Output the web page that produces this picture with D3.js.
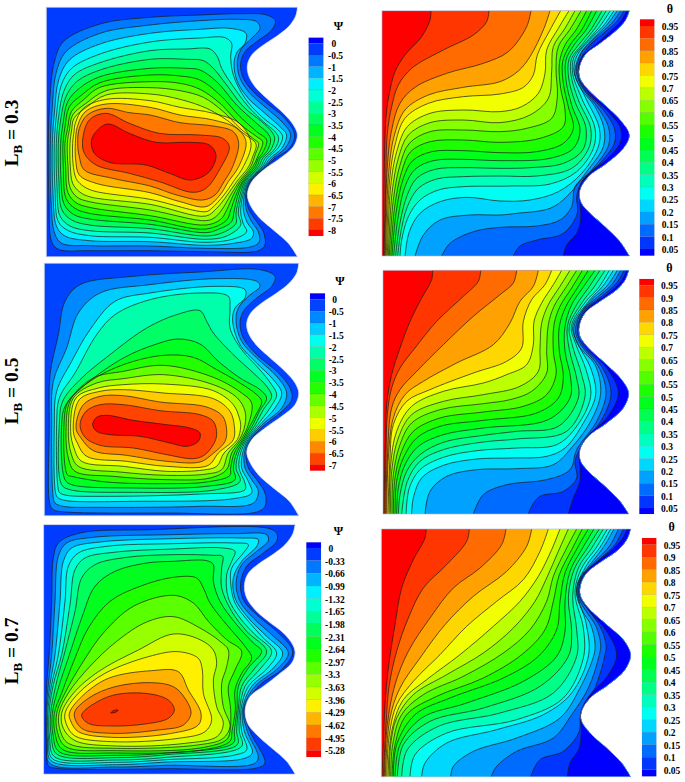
<!DOCTYPE html>
<meta charset="utf-8">
<style>
  body { margin: 0; background: white; }
  text { font-family: "Liberation Serif", serif; font-weight: bold; fill: black; }
</style>
<body>
<div id="chart"></div>
<script src="https://d3js.org/d3.v7.min.js"></script>
<script>
const psiLabels03 = [0,-0.5,-1,-1.5,-2,-2.5,-3,-3.5,-4,-4.5,-5,-5.5,-6,-6.5,-7,-7.5,-8];
const psiLabels05 = [0,-0.5,-1,-1.5,-2,-2.5,-3,-3.5,-4,-4.5,-5,-5.5,-6,-6.5,-7];
const psiLabels07 = [0,-0.33,-0.66,-0.99,-1.32,-1.65,-1.98,-2.31,-2.64,-2.97,-3.3,-3.63,-3.96,-4.29,-4.62,-4.95,-5.28];
const thetaLabels = [0.95,0.9,0.85,0.8,0.75,0.7,0.65,0.6,0.55,0.5,0.45,0.4,0.35,0.3,0.25,0.2,0.15,0.1,0.05];

// wavy right wall of the cavity, one per panel
const wallA = [[892,22],[888,45],[870,75],[835,105],[790,135],[755,165],[742,195],[745,225],[765,260],[800,295],[850,340],[880,375],[892,405],[880,440],[840,475],[790,510],[755,545],[742,580],[748,610],[775,650],[820,690],[865,730],[892,770]];
const wallB = [[838,32],[827,60],[800,90],[750,130],[705,165],[688,205],[690,235],[715,270],[770,320],[815,365],[838,405],[820,445],[770,490],[715,530],[690,570],[692,605],[720,640],[765,680],[810,725],[838,768]];
const wallC = [[896,16],[890,45],[868,75],[830,105],[785,135],[752,165],[740,195],[745,225],[768,260],[805,295],[855,340],[885,375],[896,405],[885,440],[845,475],[795,510],[755,545],[740,580],[748,610],[775,650],[820,690],[868,730],[896,773]];
const wallD = [[836,37],[826,65],[800,95],[750,130],[705,165],[688,205],[690,235],[715,270],[770,320],[815,365],[836,405],[820,450],[770,495],[715,535],[690,575],[692,610],[720,645],[765,685],[810,730],[836,768]];
const wallE = [[885,20],[878,48],[855,80],[820,108],[775,138],[742,170],[733,205],[740,240],[765,275],[805,310],[850,345],[878,380],[885,405],[875,435],[835,470],[790,505],[750,535],[735,575],[742,615],[770,650],[815,690],[860,730],[885,768]];
const wallF = [[842,33],[832,62],[805,95],[755,130],[710,165],[692,200],[692,235],[715,270],[770,320],[820,365],[842,410],[825,455],[775,500],[720,540],[695,580],[695,610],[725,650],[770,690],[815,735],[842,776]];

// streamfunction contours, outermost first, closed loops
const psiLoopsA = [
  [[155,725],[147,600],[145,430],[150,290],[162,190],[190,125],[300,72],[450,52],[600,45],[720,41],[800,45],[826,62],[815,90],[770,125],[735,155],[722,190],[728,230],[755,270],[800,310],[855,355],[884,405],[868,445],[825,475],[798,500],[752,545],[740,585],[745,625],[770,665],[790,695],[795,735],[775,752],[618,755],[450,752],[268,752],[175,748]],
  [[164,700],[153,600],[151,430],[157,320],[168,220],[198,155],[300,100],[450,75],[600,62],[710,58],[770,65],[780,85],[755,115],[725,145],[712,185],[720,235],[750,280],[800,325],[850,370],[872,405],[855,445],[818,475],[795,500],[749,545],[737,585],[738,625],[755,665],[775,695],[778,725],[755,740],[618,745],[450,738],[268,737],[185,730]],
  [[170,680],[159,580],[157,430],[164,330],[176,240],[208,180],[300,132],[450,100],[600,88],[690,85],[738,100],[735,130],[712,155],[702,190],[712,245],[745,295],[795,340],[845,385],[860,405],[845,445],[810,475],[791,500],[746,545],[733,585],[730,630],[742,668],[760,695],[755,715],[700,730],[618,736],[450,725],[268,722],[195,708]],
  [[175,665],[165,570],[163,430],[170,340],[184,255],[215,205],[300,162],[450,126],[600,114],[675,113],[695,130],[692,170],[700,225],[735,295],[785,350],[835,390],[848,410],[835,443],[802,475],[787,500],[743,545],[729,585],[722,635],[730,672],[740,695],[700,717],[618,727],[450,712],[268,707],[205,692]],
  [[180,648],[171,560],[169,430],[176,350],[191,275],[222,225],[300,188],[450,152],[560,147],[630,147],[652,170],[665,205],[700,260],[745,320],[790,365],[825,395],[836,415],[824,447],[795,475],[782,500],[739,545],[725,585],[715,640],[722,675],[680,708],[618,718],[450,699],[268,692],[210,678]],
  [[186,630],[177,550],[175,430],[182,360],[198,290],[230,245],[300,210],[450,178],[560,178],[610,182],[640,205],[680,255],[730,320],[785,365],[815,395],[824,415],[812,450],[788,475],[776,500],[735,545],[720,585],[708,640],[708,670],[668,698],[618,708],[450,686],[268,675],[215,660]],
  [[192,612],[183,540],[182,430],[189,370],[203,305],[238,265],[300,230],[450,205],[560,205],[600,210],[650,245],[710,315],[770,370],[803,400],[812,420],[800,455],[781,475],[770,500],[731,545],[714,585],[702,635],[695,665],[655,688],[618,698],[450,673],[268,657],[220,643]],
  [[198,595],[190,500],[189,430],[195,380],[208,320],[245,285],[300,248],[450,225],[540,228],[600,240],[660,285],[720,350],[770,395],[800,420],[788,458],[775,475],[764,500],[727,545],[708,585],[692,630],[680,660],[618,687],[450,660],[268,640],[225,625]],
  [[204,578],[197,500],[195,430],[203,385],[214,335],[252,298],[300,262],[450,245],[540,250],[600,268],[660,310],[720,372],[770,410],[788,425],[775,465],[758,500],[722,545],[700,585],[680,630],[662,658],[618,675],[450,647],[268,622],[228,608]],
  [[210,562],[204,500],[202,430],[209,385],[218,345],[258,310],[318,272],[450,263],[540,272],[610,292],[670,335],[720,385],[765,420],[776,430],[765,465],[752,500],[717,545],[692,585],[665,630],[645,652],[618,662],[450,630],[268,605],[232,592]],
  [[218,550],[211,500],[210,430],[215,390],[222,355],[262,320],[318,285],[450,282],[540,298],[620,325],[680,360],[730,400],[768,432],[758,470],[746,500],[710,545],[682,585],[650,625],[618,648],[450,613],[268,590],[238,575]],
  [[228,535],[219,490],[218,430],[222,395],[226,370],[250,325],[318,298],[450,302],[540,322],[640,340],[718,370],[753,430],[730,500],[700,545],[672,585],[635,625],[618,635],[450,598],[278,572],[245,555]],
  [[238,525],[227,480],[226,430],[232,380],[256,335],[318,312],[450,322],[540,345],[640,360],[710,385],[738,425],[716,500],[685,545],[660,585],[618,620],[540,605],[450,578],[288,550]],
  [[253,510],[238,470],[233,430],[238,385],[262,345],[318,325],[388,338],[450,345],[540,368],[640,378],[700,395],[716,430],[698,500],[672,545],[645,585],[608,600],[530,585],[450,558],[338,535]],
  [[248,420],[268,360],[318,340],[388,370],[478,400],[598,405],[668,415],[688,440],[658,510],[618,565],[578,577],[478,545],[388,520],[288,495],[253,460]],
  [[274,425],[288,395],[323,372],[388,400],[468,427],[568,427],[628,435],[648,465],[628,515],[573,540],[508,520],[438,495],[328,487],[283,460]]
];
const psiLoopsC = [
  [[150,740],[148,500],[150,350],[175,230],[195,130],[240,80],[400,55],[600,42],[780,35],[825,55],[815,85],[770,120],[730,160],[720,195],[730,240],[770,290],[830,340],[870,390],[875,425],[840,465],[795,500],[752,545],[738,585],[745,630],[770,665],[795,705],[795,745],[770,762],[500,765],[200,762],[160,755]],
  [[160,720],[155,500],[160,370],[200,270],[235,165],[300,105],[450,80],[650,62],[770,70],[780,85],[745,115],[715,150],[708,190],[725,250],[770,300],[830,355],[860,405],[845,450],[787,500],[748,545],[733,585],[735,630],[755,665],[775,700],[760,735],[600,745],[300,748],[190,745],[165,735]],
  [[168,710],[163,500],[170,400],[215,310],[270,215],[345,130],[450,105],[650,85],[735,95],[735,120],[705,150],[698,190],[720,260],[770,315],[820,365],[845,405],[825,450],[780,500],[744,545],[728,585],[725,630],[745,670],[755,705],[700,722],[400,730],[200,728],[175,720]],
  [[175,695],[170,500],[178,420],[225,345],[290,230],[345,170],[450,125],[600,105],[685,115],[690,150],[690,210],[725,275],[775,330],[815,380],[830,410],[810,450],[773,500],[740,545],[722,585],[717,630],[735,675],[735,695],[600,708],[300,715],[200,712],[180,705]],
  [[185,680],[178,500],[188,430],[240,365],[330,290],[440,210],[530,170],[600,158],[620,190],[640,225],[700,290],[760,345],[800,385],[815,415],[790,455],[766,500],[736,545],[716,585],[708,630],[720,670],[650,695],[400,703],[210,695]],
  [[195,665],[185,500],[195,445],[250,385],[370,300],[470,258],[535,243],[600,258],[655,310],[720,360],[780,395],[800,420],[778,460],[759,500],[732,545],[710,585],[700,630],[705,665],[620,685],[400,690],[215,680]],
  [[202,650],[192,500],[205,430],[270,370],[370,320],[490,292],[580,298],[650,335],[720,375],[770,410],[785,430],[768,470],[752,500],[728,545],[703,585],[692,630],[690,652],[620,672],[500,677],[320,672],[215,655]],
  [[205,600],[198,520],[212,425],[280,360],[370,340],[490,322],[640,358],[725,405],[755,435],[745,500],[723,545],[695,585],[680,635],[630,660],[500,665],[340,655],[225,640]],
  [[213,585],[205,520],[220,420],[290,375],[370,362],[490,350],[640,380],[712,420],[735,460],[735,500],[718,545],[685,585],[665,635],[620,648],[500,652],[360,642],[235,625]],
  [[222,570],[212,520],[228,420],[295,390],[370,380],[490,378],[640,398],[700,440],[718,480],[722,505],[712,545],[672,585],[650,625],[610,636],[500,640],[370,625],[245,610]],
  [[232,555],[220,520],[238,425],[300,400],[370,395],[490,405],[640,422],[690,460],[703,505],[700,545],[655,585],[625,622],[500,625],[380,610],[260,595]],
  [[243,540],[228,510],[250,440],[300,415],[370,413],[480,432],[620,447],[668,475],[680,515],[675,550],[635,590],[600,612],[500,610],[380,592],[280,578]],
  [[255,538],[240,500],[258,460],[300,440],[370,440],[480,458],[600,470],[640,490],[650,530],[640,560],[612,592],[580,602],[500,590],[400,570],[300,562]],
  [[278,500],[290,478],[320,472],[400,487],[500,500],[570,510],[600,525],[595,550],[560,565],[510,555],[420,535],[330,530],[290,520]]
];
const psiLoopsE = [
  [[136,586],[140,500],[148,400],[155,250],[160,120],[175,75],[240,45],[450,35],[800,30],[830,45],[830,70],[790,105],[740,145],[722,195],[730,245],[770,290],[830,340],[878,400],[850,450],[775,505],[733,575],[750,640],[795,735],[770,750],[500,752],[350,754],[165,750],[145,743],[139,681]],
  [[138,586],[145,500],[155,410],[165,250],[175,115],[200,75],[280,58],[520,50],[700,47],[800,50],[805,68],[770,100],[725,140],[708,195],[720,250],[760,300],[815,350],[865,405],[835,450],[765,505],[730,575],[742,640],[775,720],[760,738],[500,742],[350,747],[149,736],[141,676]],
  [[140,586],[150,500],[165,410],[180,250],[190,130],[215,90],[300,72],[520,62],[720,60],[775,65],[770,85],[725,130],[700,180],[705,240],[745,300],[800,355],[848,405],[820,450],[755,505],[727,575],[733,640],[757,705],[730,722],[500,732],[350,740],[153,728],[143,671]],
  [[143,586],[155,500],[175,410],[195,250],[205,145],[235,105],[320,85],[520,77],[700,75],[745,80],[730,105],[695,150],[692,195],[705,255],[745,310],[790,360],[830,405],[803,450],[745,505],[723,575],[725,640],[740,695],[700,712],[500,725],[350,733],[157,722],[146,666]],
  [[147,586],[160,500],[185,410],[210,260],[225,155],[255,120],[340,103],[520,93],[670,90],[705,100],[695,130],[680,170],[685,240],[720,300],[765,350],[815,400],[783,450],[735,505],[719,575],[718,640],[725,685],[500,718],[350,726],[163,716],[149,661]],
  [[152,586],[168,500],[195,400],[225,280],[245,180],[285,140],[380,118],[520,110],[640,112],[668,115],[665,150],[665,210],[695,280],[740,340],[800,400],[765,450],[725,505],[715,575],[710,640],[712,680],[500,710],[350,719],[170,708],[154,656]],
  [[157,586],[175,510],[205,420],[245,300],[285,205],[345,160],[440,135],[520,130],[620,128],[640,140],[640,190],[660,250],[710,320],[760,375],[785,400],[745,450],[715,505],[711,575],[703,640],[700,675],[500,705],[350,712],[177,701],[159,651]],
  [[163,586],[185,525],[225,420],[265,330],[330,250],[420,205],[520,178],[590,180],[610,210],[630,255],[680,320],[735,385],[755,420],[725,466],[705,516],[706,575],[696,640],[690,670],[600,697],[350,705],[187,694],[165,646]],
  [[170,586],[195,525],[250,430],[310,345],[400,265],[520,232],[580,255],[625,310],[680,365],[725,400],[705,456],[685,506],[692,575],[690,640],[680,665],[600,690],[350,698],[197,686],[172,641]],
  [[177,586],[205,525],[270,445],[350,370],[440,312],[520,296],[600,330],[660,370],[685,396],[680,446],[665,496],[670,566],[690,626],[668,662],[600,680],[350,691],[205,676],[180,636]],
  [[185,586],[220,526],[295,461],[415,396],[520,348],[600,365],[640,396],[650,436],[640,486],[650,566],[670,616],[652,655],[555,676],[350,684],[225,668],[190,631]],
  [[195,586],[235,526],[315,466],[445,416],[535,401],[595,421],[607,456],[610,526],[635,606],[615,641],[535,661],[335,671],[225,654],[200,621]],
  [[208,586],[245,536],[325,481],[455,458],[535,461],[565,516],[603,586],[595,621],[515,646],[335,658],[235,641],[213,611]],
  [[223,586],[265,541],[345,506],[455,494],[520,506],[555,541],[573,586],[550,621],[475,636],[335,646],[245,631]],
  [[245,591],[325,536],[435,526],[505,546],[523,576],[505,601],[435,618],[335,624],[265,616]],
  [[332,585],[340,578],[354,576],[352,580],[342,584]]
];

// temperature contours, 0.95 first, each runs from the top wall to the bottom wall
const thetaLinesB = [
  [[243,32],[240,60],[215,110],[165,165],[135,215],[118,280],[108,350],[104,450],[102,600],[100,768]],
  [[417,32],[410,65],[370,105],[280,150],[185,205],[145,255],[125,320],[112,400],[107,560],[102,768]],
  [[543,32],[530,80],[475,155],[400,190],[290,220],[195,262],[150,310],[125,390],[112,500],[104,768]],
  [[600,32],[582,85],[540,170],[505,213],[450,245],[340,262],[235,285],[165,330],[132,410],[116,520],[106,768]],
  [[632,32],[600,90],[562,165],[550,225],[520,262],[450,282],[340,290],[235,310],[165,355],[135,435],[119,540],[109,768]],
  [[657,32],[625,85],[590,150],[585,220],[565,280],[515,320],[450,335],[340,330],[240,340],[172,380],[140,455],[122,560],[112,768]],
  [[675,32],[645,85],[610,140],[605,215],[595,295],[540,345],[450,368],[340,360],[240,368],[175,405],[145,475],[126,580],[115,768]],
  [[693,32],[660,88],[625,140],[618,205],[622,290],[605,355],[530,385],[450,395],[340,390],[240,395],[178,430],[150,495],[130,600],[118,768]],
  [[710,32],[678,90],[645,135],[628,190],[632,265],[645,330],[640,380],[570,415],[450,427],[340,420],[240,425],[182,455],[155,515],[134,620],[122,768]],
  [[725,32],[695,90],[660,135],[638,185],[640,250],[655,320],[670,385],[640,430],[560,455],[450,458],[340,452],[245,455],[188,482],[160,535],[138,640],[126,768]],
  [[740,32],[708,90],[672,135],[648,180],[648,240],[665,315],[690,390],[670,445],[600,475],[450,482],[340,478],[250,482],[195,508],[165,560],[143,660],[131,768]],
  [[756,32],[722,90],[685,135],[657,178],[656,235],[675,305],[708,385],[698,450],[640,490],[540,503],[450,505],[340,503],[255,508],[200,535],[170,590],[148,680],[137,768]],
  [[769,32],[735,85],[695,135],[665,175],[663,225],[685,300],[722,385],[716,445],[665,505],[560,528],[450,528],[340,530],[260,537],[205,565],[172,620],[152,700],[143,768]],
  [[781,32],[745,85],[705,130],[672,172],[668,220],[695,295],[735,385],[730,445],[680,515],[600,552],[480,558],[340,560],[265,570],[210,600],[175,650],[155,720],[150,768]],
  [[792,32],[758,80],[718,120],[680,168],[672,215],[705,290],[748,385],[745,440],[695,520],[625,575],[540,600],[450,603],[350,592],[270,605],[210,640],[178,695],[165,768]],
  [[802,32],[770,75],[730,115],[695,155],[678,195],[675,225],[692,265],[735,320],[762,385],[760,440],[710,515],[650,590],[600,625],[500,640],[450,645],[360,645],[270,660],[220,705],[195,768]],
  [[812,32],[785,70],[745,105],[700,150],[682,190],[680,222],[698,265],[745,325],[775,380],[776,435],[725,510],[675,560],[665,620],[630,660],[560,678],[450,682],[370,695],[300,730],[275,768]],
  [[822,32],[800,65],[760,100],[715,140],[690,180],[684,210],[688,240],[708,275],[760,330],[793,385],[793,430],[745,495],[695,545],[680,590],[682,640],[640,700],[560,720],[510,738],[490,768]],
  [[830,32],[815,60],[780,95],[735,135],[697,170],[686,205],[692,240],[722,285],[775,335],[812,385],[812,425],[768,480],[712,525],[687,570],[690,610],[692,660],[680,700],[650,735],[640,768]]
];
const thetaLinesD = [
  [[248,37],[245,65],[215,120],[180,190],[150,270],[125,350],[110,440],[106,560],[101,768]],
  [[392,37],[385,70],[340,115],[260,190],[195,270],[150,330],[125,390],[112,470],[108,600],[104,768]],
  [[500,37],[490,75],[450,110],[370,175],[280,260],[200,340],[150,395],[125,450],[112,600],[107,768]],
  [[565,37],[550,85],[510,130],[480,195],[430,260],[320,315],[220,370],[165,410],[130,480],[115,600],[110,768]],
  [[605,37],[585,80],[545,125],[520,190],[515,270],[470,310],[370,345],[240,395],[170,430],[130,500],[120,600],[114,768]],
  [[635,37],[610,80],[575,135],[552,190],[550,260],[530,320],[470,350],[400,375],[280,400],[185,445],[140,520],[122,620],[118,768]],
  [[660,37],[630,85],[595,140],[575,195],[570,270],[565,340],[510,385],[400,410],[280,430],[185,470],[145,540],[125,640],[122,768]],
  [[680,37],[650,85],[612,145],[595,200],[590,280],[590,345],[545,400],[480,425],[400,437],[270,455],[185,495],[150,560],[130,650],[126,768]],
  [[697,37],[665,90],[630,145],[612,200],[610,280],[618,350],[590,410],[520,445],[400,462],[270,480],[190,520],[155,580],[135,660],[130,768]],
  [[715,37],[682,90],[648,145],[628,205],[628,280],[640,355],[625,420],[560,465],[400,487],[270,505],[200,540],[160,600],[140,670],[135,768]],
  [[735,37],[698,90],[665,140],[645,205],[645,280],[662,360],[660,420],[595,485],[400,510],[280,530],[205,565],[165,620],[145,690],[140,768]],
  [[750,37],[715,90],[680,140],[652,205],[658,275],[680,360],[685,420],[625,505],[500,520],[400,532],[280,553],[210,590],[170,640],[150,710],[145,768]],
  [[765,37],[730,90],[695,135],[658,205],[668,265],[695,350],[705,415],[650,520],[500,543],[400,552],[280,575],[210,610],[172,670],[155,768]],
  [[778,37],[745,90],[708,130],[664,205],[678,260],[708,335],[722,415],[680,505],[620,560],[500,570],[380,578],[280,598],[210,635],[178,690],[168,768]],
  [[790,37],[758,85],[720,125],[668,205],[685,260],[722,330],[737,410],[700,495],[645,570],[590,595],[480,600],[380,603],[280,622],[215,660],[190,720],[185,768]],
  [[802,37],[770,85],[730,120],[692,165],[672,205],[675,240],[690,270],[735,320],[752,405],[722,490],[668,565],[610,620],[500,632],[380,635],[290,655],[240,700],[225,768]],
  [[812,37],[785,80],[745,115],[700,155],[680,195],[677,225],[695,265],[745,325],[768,405],[740,490],[680,575],[660,635],[590,665],[470,680],[400,710],[370,768]],
  [[822,37],[800,75],[755,115],[705,155],[685,195],[682,225],[700,265],[755,325],[783,405],[755,485],[700,555],[675,610],[680,660],[640,700],[570,715],[545,745],[535,768]],
  [[830,37],[815,68],[770,110],[715,150],[692,185],[686,215],[695,245],[715,275],[770,330],[805,405],[770,480],[712,535],[688,580],[690,630],[690,670],[670,720],[655,768]]
];
const thetaLinesF = [
  [[228,33],[225,60],[190,125],[155,210],[135,320],[115,450],[105,560],[100,680],[96,776]],
  [[358,33],[350,70],[290,140],[220,210],[175,300],[140,400],[118,500],[108,620],[100,776]],
  [[468,33],[455,80],[390,150],[310,210],[240,300],[175,400],[135,500],[112,620],[103,776]],
  [[545,33],[530,85],[470,160],[370,235],[285,320],[210,420],[150,510],[120,600],[106,776]],
  [[595,33],[570,100],[520,185],[440,250],[350,325],[270,410],[190,490],[140,560],[118,650],[110,776]],
  [[630,33],[605,95],[565,175],[510,250],[430,325],[330,410],[230,485],[160,545],[125,640],[114,776]],
  [[655,33],[625,100],[590,180],[555,250],[490,330],[400,405],[290,470],[190,530],[140,600],[122,680],[118,776]],
  [[680,33],[645,100],[610,175],[590,250],[540,335],[460,405],[340,475],[220,530],[155,590],[128,680],[122,776]],
  [[697,33],[665,95],[628,170],[610,250],[585,335],[515,410],[400,480],[260,535],[170,590],[135,680],[126,776]],
  [[715,33],[682,90],[645,165],[630,250],[620,335],[565,415],[460,480],[300,540],[195,590],[140,680],[130,776]],
  [[732,33],[698,90],[660,160],[645,250],[645,340],[620,415],[520,490],[350,555],[215,600],[150,680],[135,776]],
  [[748,33],[712,90],[672,155],[655,240],[665,340],[655,415],[570,505],[400,570],[240,610],[160,680],[142,776]],
  [[760,33],[725,90],[685,150],[668,235],[680,335],[680,415],[610,525],[450,585],[265,625],[172,695],[155,776]],
  [[772,33],[738,90],[695,150],[675,225],[700,330],[700,420],[640,540],[500,605],[290,645],[195,710],[180,776]],
  [[782,33],[750,88],[708,145],[680,215],[708,315],[716,410],[665,525],[580,590],[440,635],[290,675],[225,735],[215,776]],
  [[792,33],[762,85],[720,140],[690,180],[680,210],[682,240],[698,280],[722,320],[735,375],[732,410],[690,510],[630,600],[500,660],[370,700],[310,745],[302,776]],
  [[805,33],[778,85],[735,130],[695,175],[684,205],[686,240],[705,275],[738,325],[752,380],[748,410],[715,510],[665,590],[610,660],[500,700],[440,745],[423,776]],
  [[820,33],[795,80],[755,118],[700,170],[688,200],[688,235],[712,272],[750,325],[768,380],[765,410],[735,510],[692,590],[688,640],[640,700],[570,725],[542,776]],
  [[832,33],[815,65],[775,105],[720,150],[693,190],[692,235],[720,280],[770,340],[800,410],[772,475],[720,530],[693,580],[694,630],[688,690],[660,735],[652,776]]
];

const width = 685, height = 782;
const svg = d3.select("#chart").append("svg").attr("width", width).attr("height", height);

// Tecplot style rainbow, evaluated once per band
const rainbow = d3.scaleLinear()
  .domain([0, 0.25, 0.5, 0.75, 1])
  .range(["#0000ff", "#00ffff", "#00ff00", "#ffff00", "#ff0000"]);

const loopPath = d3.line().curve(d3.curveCatmullRomClosed.alpha(0.5));
const openPath = d3.line().curve(d3.curveCatmullRom.alpha(0.5));

function drawPanel(p, i) {
  const x = d3.scaleLinear().domain([0, 3]).range([p.ox, p.ox + 1]);
  const y = d3.scaleLinear().domain([0, 3]).range([p.oy, p.oy + 1]);
  const toPx = pts => pts.map(d => [x(d[0]), y(d[1])]);
  const g = svg.append("g");

  const wall = p.wall;
  const left = p.left, top = wall[0][1], bottom = wall[wall.length - 1][1];
  const outline = openPath(toPx(wall)) + `L${x(left)},${y(bottom)}L${x(left)},${y(top)}Z`;

  g.append("clipPath").attr("id", "dom" + i).append("path").attr("d", outline);
  const inner = g.append("g").attr("clip-path", `url(#dom${i})`);

  const nBands = p.labels.length + 1;
  const isPsi = p.name === "Ψ";
  const bandColor = k => rainbow(isPsi ? k / (nBands - 1) : 1 - k / (nBands - 1));

  inner.append("path").attr("d", outline).attr("fill", bandColor(isPsi ? 1 : 0));

  if (isPsi) {
    inner.selectAll(".fill").data(p.lines).join("path").attr("class", "fill")
      .attr("d", d => loopPath(toPx(d)))
      .attr("fill", (d, j) => bandColor(j + 2));
    inner.selectAll(".iso").data(p.lines).join("path").attr("class", "iso")
      .attr("d", d => loopPath(toPx(d)))
      .attr("fill", "none").attr("stroke", "#1a1a1a").attr("stroke-width", 0.7);
  } else {
    // each band is everything right of its contour, the clip trims it to the wall
    inner.selectAll(".fill").data(p.lines).join("path").attr("class", "fill")
      .attr("d", d => openPath(toPx(d)) + `L${x(1000)},${y(bottom)}L${x(1000)},${y(top)}Z`)
      .attr("fill", (d, j) => bandColor(j + 1));
    inner.selectAll(".iso").data(p.lines).join("path").attr("class", "iso")
      .attr("d", d => openPath(toPx(d)))
      .attr("fill", "none").attr("stroke", "#1a1a1a").attr("stroke-width", 0.7);
  }

  g.append("path").attr("d", outline).attr("fill", "none")
    .attr("stroke", "#aab6d8").attr("stroke-width", 0.6);

  // legend, labels sit on the band boundaries
  const lg = p.legend;
  const ly = d3.scaleLinear().domain([0, p.labels.length - 1]).range([lg.first, lg.last]);
  const edges = [lg.top].concat(p.labels.map((d, j) => ly(j)), [lg.bottom]);
  g.selectAll(".band").data(d3.range(nBands)).join("rect").attr("class", "band")
    .attr("x", x(lg.x0)).attr("width", x(lg.x1) - x(lg.x0))
    .attr("y", k => y(edges[k])).attr("height", k => y(edges[k + 1]) - y(edges[k]))
    .attr("fill", k => bandColor(k))
    .attr("stroke", "#555").attr("stroke-opacity", 0.25).attr("stroke-width", 0.4);
  g.selectAll(".lab").data(p.labels).join("text").attr("class", "lab")
    .attr("x", d => x(lg.tx) + (isPsi && d === 0 ? 3.6 : 0))
    .attr("y", (d, j) => y(ly(j) + 12))
    .attr("font-size", 9.5)
    .text(d => d);
  g.append("text").attr("x", x(lg.nx)).attr("y", y(lg.ny))
    .attr("text-anchor", "middle").attr("font-size", 12).text(p.name);
}

const panels = [
  { name: "Ψ", ox: 0, oy: 0, left: 139, wall: wallA, lines: psiLoopsA, labels: psiLabels03,
    legend: { x0: 926, x1: 970, top: 113, first: 130, last: 690, bottom: 708, tx: 984, nx: 1015, ny: 90 } },
  { name: "θ", ox: 350, oy: 0, left: 96, wall: wallB, lines: thetaLinesB, labels: thetaLabels,
    legend: { x0: 870, x1: 913, top: 58, first: 78, last: 747, bottom: 767, tx: 935, nx: 960, ny: 38 } },
  { name: "Ψ", ox: 0, oy: 258, left: 133, wall: wallC, lines: psiLoopsC, labels: psiLabels05,
    legend: { x0: 930, x1: 975, top: 106, first: 124, last: 621, bottom: 638, tx: 986, nx: 1020, ny: 80 } },
  { name: "θ", ox: 350, oy: 258, left: 99, wall: wallD, lines: thetaLinesD, labels: thetaLabels,
    legend: { x0: 868, x1: 912, top: 63, first: 82, last: 750, bottom: 768, tx: 933, nx: 958, ny: 43 } },
  { name: "Ψ", ox: 0, oy: 518, left: 131, wall: wallE, lines: psiLoopsE, labels: psiLabels07,
    legend: { x0: 919, x1: 963, top: 73, first: 90, last: 697, bottom: 717, tx: 975, nx: 1015, ny: 50 } },
  { name: "θ", ox: 350, oy: 518, left: 94, wall: wallF, lines: thetaLinesF, labels: thetaLabels,
    legend: { x0: 876, x1: 919, top: 60, first: 80, last: 755, bottom: 775, tx: 941, nx: 965, ny: 40 } }
];
panels.forEach(drawPanel);

// row labels
const rowLabels = [["0.3", 133], ["0.5", 391], ["0.7", 651]];
rowLabels.forEach(([v, cy]) => {
  const t = svg.append("text").attr("text-anchor", "middle")
    .attr("transform", `translate(18,${cy}) rotate(-90)`).attr("font-size", 19.5);
  t.append("tspan").text("L");
  t.append("tspan").attr("font-size", 13).attr("dy", 4).text("B");
  t.append("tspan").attr("dy", -4).text(" = " + v);
});
</script>
</body>
</html>
